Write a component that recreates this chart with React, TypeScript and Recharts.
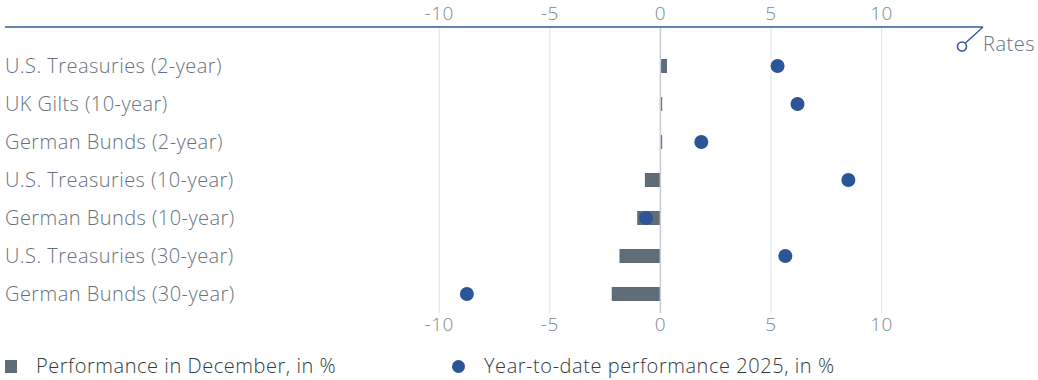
import React from 'react';
import {
  ComposedChart,
  Bar,
  Scatter,
  XAxis,
  YAxis,
  ReferenceLine,
  Legend,
} from 'recharts';

const categories = [
  'U.S. Treasuries (2-year)',
  'UK Gilts (10-year)',
  'German Bunds (2-year)',
  'U.S. Treasuries (10-year)',
  'German Bunds (10-year)',
  'U.S. Treasuries (30-year)',
  'German Bunds (30-year)',
];
const decemberPerf = [0.3, 0.08, 0.08, -0.7, -1.05, -1.85, -2.2];
const ytdPerf = [5.3, 6.2, 1.85, 8.5, -0.65, 5.65, -8.75];
const xTicks = [-10, -5, 0, 5, 10];

const data = categories.map((name, i) => ({
  name,
  december: decemberPerf[i],
  ytd: ytdPerf[i],
}));

const FONT = '"Open Sans", Roboto, sans-serif';
const TEXT = '#66727d';
const TICK = '#7d8891';
const BAR = '#5e6d78';
const DOT = '#2b5597';
const LINE = '#33579a';

const CategoryTick = (props) => {
  const { y, payload } = props;
  return (
    <text x={5} y={y} dy="0.36em" textAnchor="start" fill={TEXT} fontSize={20} fontWeight={300} fontFamily={FONT} letterSpacing={0.45}>
      {payload.value}
    </text>
  );
};

const Dot = (props) => {
  const { cx, cy } = props;
  if (cx == null || cy == null) return null;
  return <circle cx={cx} cy={cy} r={7} fill={DOT} />;
};

const LegendContent = () => (
  <div style={{ position: 'relative', width: 1038, height: 40, fontFamily: FONT, fontWeight: 300, fontSize: 20, letterSpacing: 0.55, color: '#333a40' }}>
    <span style={{ position: 'absolute', left: 5, top: 20, width: 12, height: 13, background: BAR }} />
    <span style={{ position: 'absolute', left: 36, top: 14, lineHeight: '24px', whiteSpace: 'nowrap' }}>Performance in December, in %</span>
    <span style={{ position: 'absolute', left: 452, top: 20, width: 13, height: 13, borderRadius: 7, background: DOT }} />
    <span style={{ position: 'absolute', left: 484, top: 14, lineHeight: '24px', whiteSpace: 'nowrap' }}>Year-to-date performance 2025, in %</span>
  </div>
);

const tickStyle = { fill: TICK, fontSize: 19, fontWeight: 300, fontFamily: FONT, letterSpacing: 0.5 };

export default function App() {
  return (
    <div style={{ position: 'absolute', left: 0, top: 0, width: 1038, height: 380, background: '#fff' }}>
      <ComposedChart
        width={1038}
        height={380}
        data={data}
        layout="vertical"
        margin={{ top: 0, right: 68, bottom: 0, left: 0 }}
      >
        <XAxis
          xAxisId="top"
          orientation="top"
          type="number"
          domain={[-12, 14]}
          ticks={xTicks}
          height={27}
          axisLine={false}
          tickLine={false}
          tickMargin={1}
          tick={tickStyle}
        />
        <XAxis
          xAxisId="bottom"
          orientation="bottom"
          type="number"
          domain={[-12, 14]}
          ticks={xTicks}
          height={27}
          axisLine={false}
          tickLine={false}
          tickMargin={-1}
          tick={tickStyle}
        />
        <YAxis
          type="category"
          dataKey="name"
          width={395}
          axisLine={false}
          tickLine={false}
          padding={{ top: 20, bottom: 0 }}
          tick={<CategoryTick />}
          interval={0}
        />
        {xTicks.map((v) => (
          <ReferenceLine
            key={v}
            xAxisId="bottom"
            x={v}
            stroke={v === 0 ? '#c5ccd5' : '#dde2e9'}
            strokeWidth={v === 0 ? 1.5 : 1}
          />
        ))}
        <Legend verticalAlign="bottom" content={<LegendContent />} wrapperStyle={{ left: 0, bottom: 0, width: 1038, height: 40 }} />
        <Bar xAxisId="top" dataKey="december" fill={BAR} barSize={14} isAnimationActive={false} />
        <Scatter xAxisId="bottom" dataKey="ytd" shape={<Dot />} isAnimationActive={false} />
      </ComposedChart>
      <svg width={1038} height={380} style={{ position: 'absolute', left: 0, top: 0, pointerEvents: 'none' }}>
        <line x1={5} y1={27} x2={983} y2={27} stroke={LINE} strokeWidth={1.3} />
        <line x1={983} y1={27} x2={965} y2={43.5} stroke={LINE} strokeWidth={1.3} />
        <circle cx={962} cy={46.5} r={4.5} fill="#fff" stroke={LINE} strokeWidth={1.6} />
        <text x={983} y={44} dy="0.36em" fill={TEXT} fontSize={20} fontWeight={300} fontFamily={FONT} letterSpacing={0.5}>Rates</text>
      </svg>
    </div>
  );
}
